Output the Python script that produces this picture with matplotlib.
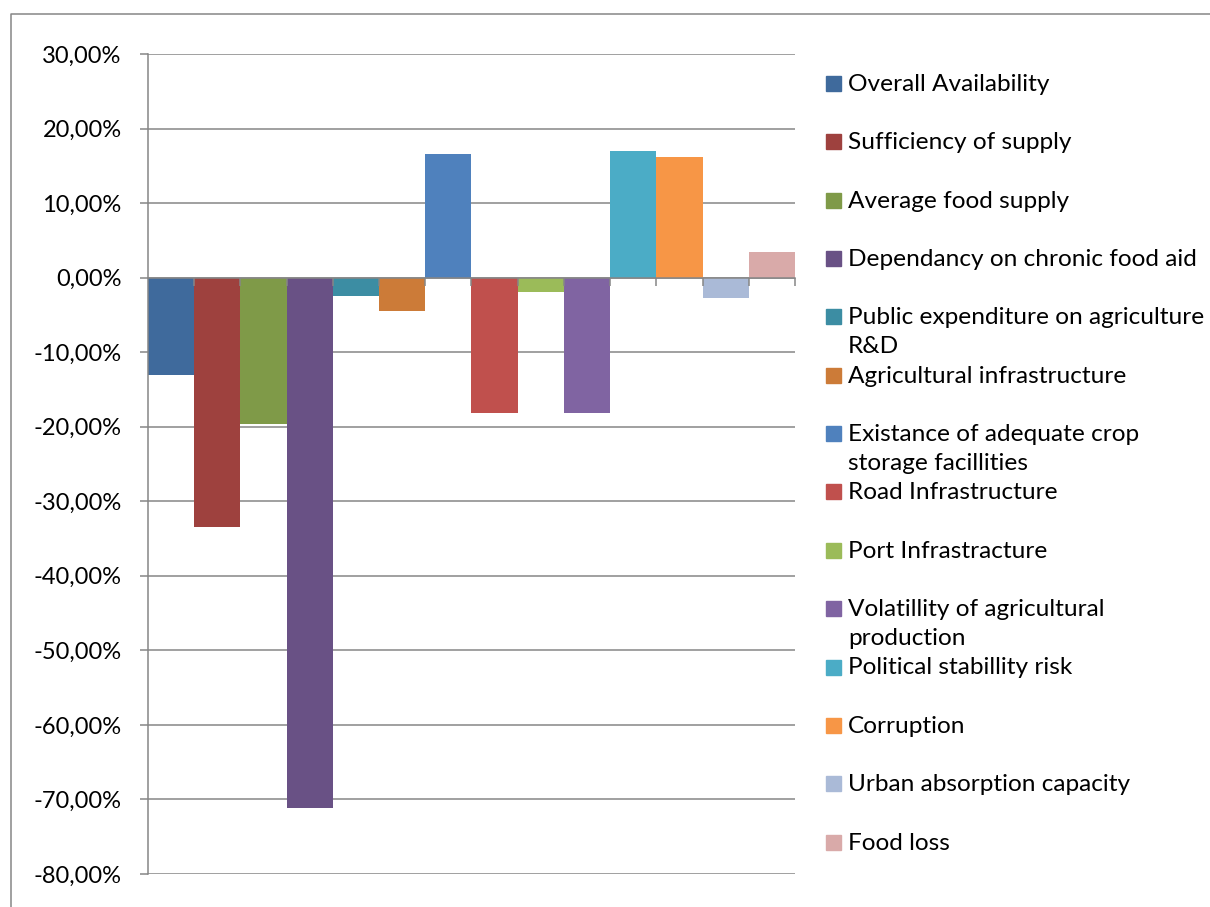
import numpy as np
import matplotlib.pyplot as plt
from matplotlib.patches import Rectangle
from matplotlib.lines import Line2D
from matplotlib.ticker import FuncFormatter

plt.rcParams['font.family'] = ['Lato', 'DejaVu Sans']

# Indicator names (legend labels, wrapped as in the legend box)
indicators = [
    'Overall Availability',
    'Sufficiency of supply',
    'Average food supply',
    'Dependancy on chronic food aid',
    'Public expenditure on agriculture\nR&D',
    'Agricultural infrastructure',
    'Existance of adequate crop\nstorage facillities',
    'Road Infrastructure',
    'Port Infrastracture',
    'Volatillity of agricultural\nproduction',
    'Political stabillity risk',
    'Corruption',
    'Urban absorption capacity',
    'Food loss',
]

# Change per indicator, in percent
change = [-13.1, -33.4, -19.6, -71.1, -2.4, -4.5, 16.6,
          -18.2, -1.9, -18.2, 17.0, 16.2, -2.7, 3.4]

colors = ['#3F6A9C', '#9E413E', '#7F9A48', '#695185', '#3C8DA3', '#CC7B38',
          '#4F81BD', '#C0504D', '#9BBB59', '#8064A2', '#4BACC6', '#F79646',
          '#AABAD7', '#D9AAA9']

y_ticks = np.arange(-80, 31, 10)

W, H = 1210, 907
fig = plt.figure(figsize=(W / 100, H / 100), dpi=100)
ax = fig.add_axes([148 / W, 1 - 874 / H, (795 - 148) / W, (874 - 54) / H])

grey = '#868686'
x = np.arange(len(change))
ax.bar(x, change, width=1.0, color=colors, zorder=1)

ax.set_xlim(-0.5, len(change) - 0.5)
ax.set_ylim(-80, 30)
ax.set_yticks(y_ticks)
ax.yaxis.set_major_formatter(FuncFormatter(lambda v, p: f'{v:.2f}%'.replace('.', ',')))
ax.grid(axis='y', color=grey, linewidth=1.1)
ax.set_axisbelow(True)

# category axis sits on the zero line, with ticks between the bars
ax.spines['bottom'].set_position(('data', 0))
ax.spines['bottom'].set_color(grey)
ax.spines['bottom'].set_linewidth(1.1)
ax.spines['bottom'].set_zorder(3)
ax.xaxis.set_zorder(3)
ax.set_xticks(x + 0.5)
ax.set_xticklabels([])
ax.tick_params(axis='x', direction='out', length=6, width=1.1, color=grey)

ax.spines['left'].set_color(grey)
ax.spines['left'].set_linewidth(1.1)
ax.spines['top'].set_visible(False)
ax.spines['right'].set_visible(False)
ax.tick_params(axis='y', direction='out', length=6, width=1.1, color=grey,
               labelsize=17, pad=13)

# legend drawn row by row on the right
row_step = 58.35
line_step = 29
for i, (label, c) in enumerate(zip(indicators, colors)):
    base = 91 + row_step * i
    fig.patches.append(Rectangle((826 / W, 1 - base / H), 15 / W, 15 / H,
                                 transform=fig.transFigure, color=c))
    for k, line in enumerate(label.split('\n')):
        fig.text(848 / W, 1 - (base + k * line_step) / H, line,
                 fontsize=17.6, va='baseline', ha='left')

# chart frame
fig.add_artist(Line2D([11 / W, 11 / W, 1.0], [0.0, 1 - 14 / H, 1 - 14 / H],
                      transform=fig.transFigure, color=grey, linewidth=1.1))

fig.savefig('out.png', dpi=100)
